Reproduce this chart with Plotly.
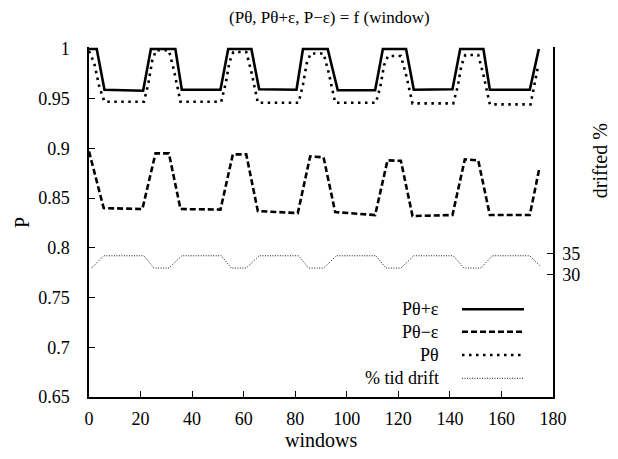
import plotly.graph_objects as go

# ---- data ----
# P theta + epsilon (solid)
x_plus = [0, 3, 6, 21, 24, 33.5, 36, 51, 54, 63, 66, 80.5, 83, 92.6, 96.5, 111, 114, 123, 126, 141, 144, 153, 155.5, 171, 174.5]
p_plus = [1.0, 1.0, 0.959, 0.958, 1.0, 1.0, 0.959, 0.959, 1.0, 1.0, 0.9595, 0.959, 1.0, 1.0, 0.9585, 0.9585, 1.0, 1.0, 0.959, 0.9595, 1.0, 1.0, 0.959, 0.959, 1.0]

# P theta - epsilon (dashed)
x_minus = [0, 5.7, 20.7, 25.8, 31, 35.5, 51, 55.8, 61, 65.5, 81, 85.8, 91, 95.5, 111, 115.8, 121, 125.5, 141, 145.8, 151, 155.5, 171, 174.7]
p_minus = [0.897, 0.840, 0.839, 0.895, 0.895, 0.839, 0.8385, 0.894, 0.894, 0.837, 0.835, 0.892, 0.891, 0.836, 0.833, 0.888, 0.8875, 0.832, 0.833, 0.889, 0.888, 0.833, 0.833, 0.880]

# P theta (dotted)
x_theta = [0, 2, 4, 6, 21.3, 23, 24.5, 26, 31, 33, 35.5,
           51.3, 53, 54.5, 56, 61, 63, 65.5,
           81.3, 83, 84.5, 86, 91, 93, 95.5,
           111.3, 113, 114.5, 116, 121, 123, 125.5,
           141.3, 143, 144.5, 146, 151, 153, 155.5,
           171.3, 174.3]
p_theta = [0.998, 0.986, 0.962, 0.947, 0.947, 0.965, 0.988, 0.9987, 0.9987, 0.978, 0.947,
           0.947, 0.965, 0.987, 0.997, 0.997, 0.977, 0.946,
           0.946, 0.964, 0.986, 0.9955, 0.9955, 0.976, 0.946,
           0.946, 0.962, 0.984, 0.993, 0.993, 0.974, 0.9453,
           0.9453, 0.962, 0.984, 0.994, 0.994, 0.974, 0.9443,
           0.9443, 0.984]

# % tid drift (thin dotted, right axis)
x_drift = [1, 5.7, 21.3, 25.2, 31, 36, 51.3, 55.2, 61, 66, 81.3, 85.2, 91, 96, 111.3, 115.2, 121, 126, 141.3, 145.5, 152, 156.5, 171, 175]
drift = [31.5, 34.5, 34.5, 31.5, 31.5, 34.5, 34.5, 31.5, 31.5, 34.5, 34.5, 31.5, 31.5, 34.5, 34.5, 31.5, 31.5, 34.5, 34.5, 31.5, 31.5, 34.5, 34.5, 32.0]

x_ticks = [0, 20, 40, 60, 80, 100, 120, 140, 160, 180]
y_ticks = [0.65, 0.7, 0.75, 0.8, 0.85, 0.9, 0.95, 1.0]
y_ticktext = ["0.65", "0.7", "0.75", "0.8", "0.85", "0.9", "0.95", "1"]
y2_ticks = [30, 35]

legend_names = ["Pθ+ε", "Pθ−ε", "Pθ", "% tid drift"]

FONT = "Liberation Serif, Times New Roman, Times, DejaVu Serif, serif"
styles = [
    dict(color="black", width=2.6),
    dict(color="black", width=2.6, dash="6px,3px"),
    dict(color="black", width=2.6, dash="2.5px,4.5px"),
    dict(color="black", width=0.9, dash="1px,1.5px"),
]

fig = go.Figure()
fig.add_trace(go.Scatter(x=x_plus, y=p_plus, mode="lines", line=styles[0], name=legend_names[0], showlegend=False))
fig.add_trace(go.Scatter(x=x_minus, y=p_minus, mode="lines", line=styles[1], name=legend_names[1], showlegend=False))
fig.add_trace(go.Scatter(x=x_theta, y=p_theta, mode="lines", line=styles[2], name=legend_names[2], showlegend=False))
fig.add_trace(go.Scatter(x=x_drift, y=drift, mode="lines", line=styles[3], name=legend_names[3], yaxis="y2", showlegend=False))

# manual legend (text left of line sample, like the reference)
leg_y = [0.2506, 0.1866, 0.12, 0.0534]
for name, st, yy in zip(legend_names, styles, leg_y):
    fig.add_annotation(x=0.7586, y=yy, xref="paper", yref="paper", text=name, showarrow=False,
                       xanchor="right", yanchor="middle", font=dict(family=FONT, size=18, color="black"))
    fig.add_shape(type="line", xref="paper", yref="paper", x0=0.8039, x1=0.9375, y0=yy, y1=yy,
                  line=st)

# axis labels
fig.add_annotation(x=-0.1444, y=0.5, xref="paper", yref="paper", text="P", showarrow=False,
                   xanchor="center", yanchor="middle",
                   textangle=-90, font=dict(family=FONT, size=20, color="black"))
fig.add_annotation(x=0.5, y=-0.123, xref="paper", yref="paper", text="windows", showarrow=False,
                   xanchor="center", yanchor="middle",
                   font=dict(family=FONT, size=20, color="black"))
fig.add_annotation(x=1.10, y=0.675, xref="paper", yref="paper", text="drifted %", showarrow=False,
                   xanchor="center", yanchor="middle",
                   textangle=-90, font=dict(family=FONT, size=20, color="black"))

axis_common = dict(showgrid=False, zeroline=False, showline=True, linecolor="black", linewidth=1.5,
                   ticks="inside", ticklen=6, tickwidth=1.2, tickcolor="black",
                   tickfont=dict(family=FONT, size=18, color="black"))

# page body has an 8px margin, so offset the plot area to land where the reference has it
fig.update_layout(
    width=618, height=459,
    margin=dict(l=81, r=73, t=39, b=70),
    paper_bgcolor="white", plot_bgcolor="white",
    font=dict(family=FONT, color="black"),
    title=dict(text="(Pθ, Pθ+ε, P−ε) = f (window)", x=0.52, xanchor="center", y=0.981, yanchor="middle",
               font=dict(family=FONT, size=17, color="black")),
    xaxis=dict(range=[0, 180], tickvals=x_ticks, ticklabelstandoff=5, **axis_common),
    yaxis=dict(range=[0.65, 1.002], tickvals=y_ticks, ticktext=y_ticktext, ticklabelstandoff=14, **axis_common),
    yaxis2=dict(range=[0, 85.5], tickvals=y2_ticks, overlaying="y", side="right", ticklabelstandoff=4, **axis_common),
    showlegend=False,
)

fig.write_html("out.html")
